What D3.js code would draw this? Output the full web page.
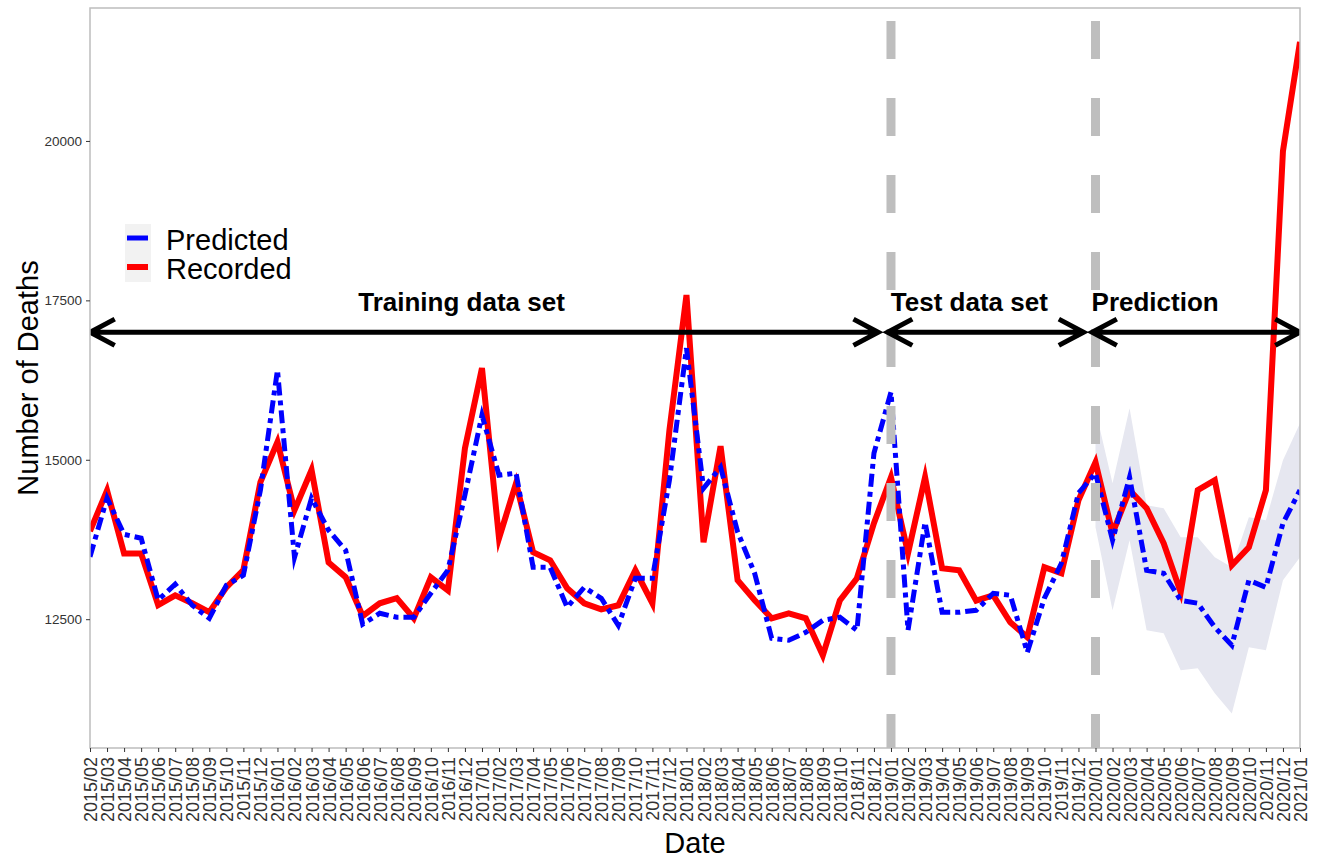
<!DOCTYPE html>
<html>
<head>
<meta charset="utf-8">
<script src="https://cdn.jsdelivr.net/npm/d3@7"></script>
<style>
  html, body { margin: 0; padding: 0; background: #ffffff; }
  svg { display: block; font-family: "Liberation Sans", Arial, sans-serif; }
</style>
</head>
<body>
<svg id="chart" width="1322" height="863"></svg>
<script>
// Monthly deaths, 2015/02 – 2021/01
const months = [
  "2015/02","2015/03","2015/04","2015/05","2015/06","2015/07","2015/08","2015/09","2015/10","2015/11","2015/12",
  "2016/01","2016/02","2016/03","2016/04","2016/05","2016/06","2016/07","2016/08","2016/09","2016/10","2016/11","2016/12",
  "2017/01","2017/02","2017/03","2017/04","2017/05","2017/06","2017/07","2017/08","2017/09","2017/10","2017/11","2017/12",
  "2018/01","2018/02","2018/03","2018/04","2018/05","2018/06","2018/07","2018/08","2018/09","2018/10","2018/11","2018/12",
  "2019/01","2019/02","2019/03","2019/04","2019/05","2019/06","2019/07","2019/08","2019/09","2019/10","2019/11","2019/12",
  "2020/01","2020/02","2020/03","2020/04","2020/05","2020/06","2020/07","2020/08","2020/09","2020/10","2020/11","2020/12",
  "2021/01"
];

const recorded = [
  13880,14520,13530,13530,12720,12875,12750,12610,13000,13270,14650,
  15280,14210,14840,13390,13160,12550,12750,12830,12514,13157,12953,15180,
  16437,13770,14633,13550,13424,12985,12750,12655,12718,13267,12750,15465,
  17583,13707,15213,13110,12796,12514,12593,12514,11933,12796,13142,14005,
  14727,13534,14727,13299,13267,12790,12875,12451,12216,13314,13220,14366,
  14962,13848,14523,14240,13691,12922,14523,14680,13346,13628,14523,19843,
  21554
];

const predicted = [
  13480,14400,13830,13770,12800,13048,12718,12514,13032,13189,14523,
  16406,13471,14397,13895,13581,12420,12593,12530,12530,12906,13267,14450,
  15700,14758,14790,13314,13314,12687,13000,12828,12404,13142,13142,14680,
  16750,14554,14884,13870,13220,12200,12169,12294,12482,12530,12326,15103,
  16061,12326,14020,12608,12608,12640,12906,12875,11980,12828,13377,14476,
  14790,13738,14727,13267,13220,12796,12750,12373,12090,13110,13000,14005,
  14523
];

// Prediction interval for the forecast months (2020/01 onward)
const bandMonths = ["2020/01","2020/02","2020/03","2020/04","2020/05","2020/06","2020/07","2020/08","2020/09","2020/10","2020/11","2020/12","2021/01"];
const bandLower = [13940,12640,13738,12326,12279,11698,11730,11337,11023,12059,12012,13110,13471];
const bandUpper = [15780,14633,15810,14287,14240,13785,13785,13471,13314,14099,14052,14994,15574];

// Split points between the data periods
const splitMonths = ["2019/01","2020/01"];

// Period annotations: arrow extent and label position, in month-index units
const phaseLabels = ["Training data set","Test data set","Prediction"];
const phaseFrom   = [0, 46.8, 58.8];
const phaseTo     = [46.25, 58.3, 71];
const phaseLabelAt = [21.8, 51.6, 62.5];
const phaseArrowValue = 17000;
const phaseLabelValue = 17500;

const yTicks = [12500, 15000, 17500, 20000];

const seriesNames = ["Predicted","Recorded"];
const seriesColors = ["#0000ff","#ff0000"];

// ---------------------------------------------------------------
const svg = d3.select("#chart");
const panel = { left: 90, right: 1300, top: 8, bottom: 748 };

const x = d3.scalePoint().domain(months).range([panel.left, panel.right]).padding(0);
const xi = d3.scaleLinear().domain([0, months.length - 1]).range([panel.left, panel.right]);
const y = d3.scaleLinear().domain([10480, 22085]).range([panel.bottom, panel.top]);

const clip = svg.append("defs").append("clipPath").attr("id", "panel-clip")
  .append("rect")
  .attr("x", panel.left).attr("y", panel.top)
  .attr("width", panel.right - panel.left).attr("height", panel.bottom - panel.top);

const plot = svg.append("g").attr("clip-path", "url(#panel-clip)");

// prediction band
const bandData = bandMonths.map((m, i) => ({ m, lo: bandLower[i], hi: bandUpper[i] }));
plot.append("path")
  .datum(bandData)
  .attr("fill", "#e6e7f0")
  .attr("d", d3.area().x(d => x(d.m)).y0(d => y(d.lo)).y1(d => y(d.hi)));

// series lines
const line = d3.line().x(d => x(d.m)).y(d => y(d.v));
const recData = months.map((m, i) => ({ m, v: recorded[i] }));
const preData = months.map((m, i) => ({ m, v: predicted[i] }));

plot.append("path")
  .datum(recData)
  .attr("fill", "none")
  .attr("stroke", seriesColors[1])
  .attr("stroke-width", 6)
  .attr("stroke-linejoin", "miter")
  .attr("stroke-miterlimit", 6)
  .attr("d", line);

plot.append("path")
  .datum(preData)
  .attr("fill", "none")
  .attr("stroke", seriesColors[0])
  .attr("stroke-width", 5)
  .attr("stroke-dasharray", "13,5,5,5")
  .attr("stroke-linejoin", "miter")
  .attr("stroke-miterlimit", 6)
  .attr("d", line);

// period split lines
plot.selectAll("line.split")
  .data(splitMonths)
  .join("line")
  .attr("class", "split")
  .attr("x1", d => x(d)).attr("x2", d => x(d))
  .attr("y1", panel.top).attr("y2", panel.bottom + 10)
  .attr("stroke", "#bebebe")
  .attr("stroke-width", 9)
  .attr("stroke-dasharray", "38,39")
  .attr("stroke-dashoffset", 64);

// period arrows
const headLen = 28, headAng = 28 * Math.PI / 180;
const arrowG = plot.append("g");
phaseLabels.forEach((label, i) => {
  const x1 = xi(phaseFrom[i]), x2 = xi(phaseTo[i]), yy = y(phaseArrowValue);
  const dx = headLen * Math.cos(headAng), dy = headLen * Math.sin(headAng);
  const p = d3.path();
  p.moveTo(x1, yy); p.lineTo(x2, yy);
  p.moveTo(x1 + dx, yy - dy); p.lineTo(x1, yy); p.lineTo(x1 + dx, yy + dy);
  p.moveTo(x2 - dx, yy - dy); p.lineTo(x2, yy); p.lineTo(x2 - dx, yy + dy);
  arrowG.append("path")
    .attr("d", p.toString())
    .attr("fill", "none")
    .attr("stroke", "#000")
    .attr("stroke-width", 5)
    .attr("stroke-linejoin", "miter")
    .attr("stroke-miterlimit", 10);
});

svg.append("g").selectAll("text")
  .data(phaseLabels)
  .join("text")
  .attr("x", (d, i) => xi(phaseLabelAt[i]))
  .attr("y", y(phaseLabelValue))
  .attr("dy", "0.4em")
  .attr("text-anchor", "middle")
  .attr("font-size", 26)
  .attr("font-weight", "bold")
  .attr("fill", "#000")
  .text(d => d);

// panel border
svg.append("rect")
  .attr("x", panel.left).attr("y", panel.top)
  .attr("width", panel.right - panel.left).attr("height", panel.bottom - panel.top)
  .attr("fill", "none")
  .attr("stroke", "#bdbdbd")
  .attr("stroke-width", 1.5);

// y axis
const yAxis = svg.append("g")
  .attr("transform", `translate(${panel.left},0)`)
  .call(d3.axisLeft(y).tickValues(yTicks).tickSize(4).tickPadding(4).tickFormat(d3.format("d")));
yAxis.select(".domain").remove();
yAxis.selectAll(".tick line").attr("stroke", "#333");
yAxis.selectAll(".tick text")
  .attr("font-size", 13.5)
  .attr("fill", "#333")
  .attr("font-family", "'Liberation Sans', Arial, sans-serif");

// x axis
const xAxis = svg.append("g")
  .attr("transform", `translate(0,${panel.bottom})`)
  .call(d3.axisBottom(x).tickSize(4).tickPadding(6));
xAxis.select(".domain").remove();
xAxis.selectAll(".tick line").attr("stroke", "#333");
xAxis.selectAll(".tick text")
  .attr("font-size", 18)
  .attr("fill", "#333")
  .attr("font-family", "'Liberation Sans', Arial, sans-serif")
  .attr("text-anchor", "end")
  .attr("transform", "rotate(-90)")
  .attr("x", -9)
  .attr("y", 0)
  .attr("dy", "0.36em");

// axis titles
svg.append("text")
  .attr("x", (panel.left + panel.right) / 2)
  .attr("y", 853)
  .attr("text-anchor", "middle")
  .attr("font-size", 29)
  .attr("fill", "#000")
  .text("Date");

svg.append("text")
  .attr("transform", `translate(38,${(panel.top + panel.bottom) / 2}) rotate(-90)`)
  .attr("text-anchor", "middle")
  .attr("font-size", 29)
  .attr("fill", "#000")
  .text("Number of Deaths");

// legend
const legend = svg.append("g");
legend.append("rect")
  .attr("x", 125).attr("y", 224).attr("width", 26).attr("height", 58)
  .attr("fill", "#f2f2f2");
seriesNames.forEach((name, i) => {
  const cy = 238 + i * 29;
  legend.append("line")
    .attr("x1", 127).attr("x2", 148)
    .attr("y1", cy).attr("y2", cy)
    .attr("stroke", seriesColors[i])
    .attr("stroke-width", i === 0 ? 5 : 6);
  legend.append("text")
    .attr("x", 166).attr("y", cy + 12)
    .attr("font-size", 29)
    .attr("fill", "#000")
    .text(name);
});
</script>
</body>
</html>
